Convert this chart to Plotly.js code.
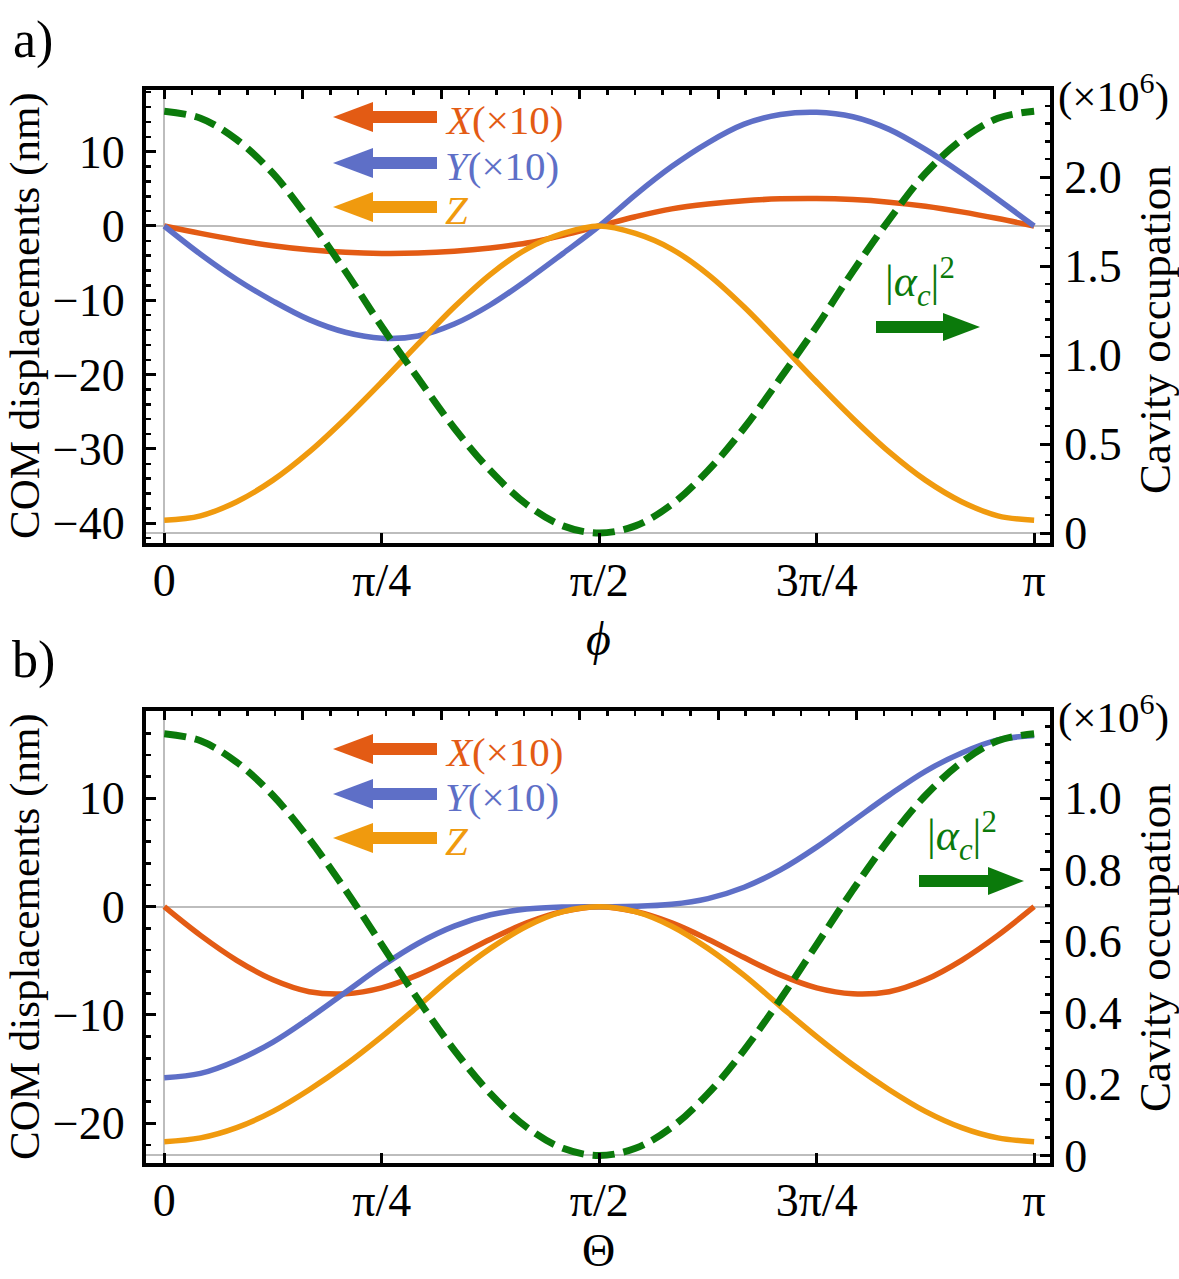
<!DOCTYPE html>
<html><head><meta charset="utf-8">
<script src="https://cdn.plot.ly/plotly-3.0.1.min.js"></script>
<style>html,body{margin:0;padding:0;background:#fff}#chart{width:1179px;height:1279px}</style>
</head><body><div id="chart"></div>
<script>
// angle grid (rad), step pi/24
const angle = [0, 0.1309, 0.2618, 0.3927, 0.5236, 0.6545, 0.7854, 0.9163, 1.0472, 1.1781, 1.3090, 1.4399, 1.5708, 1.7017, 1.8326, 1.9635, 2.0944, 2.2253, 2.3562, 2.4871, 2.6180, 2.7489, 2.8798, 3.0107, 3.1416];

// panel a (vs phi)
const xA = [0, -1.0, -1.9, -2.65, -3.2, -3.55, -3.7, -3.65, -3.4, -2.95, -2.3, -1.25, 0, 1.25, 2.3, 2.95, 3.4, 3.65, 3.7, 3.55, 3.2, 2.65, 1.9, 1.0, 0];
const yA = [0, -3.8, -7.2, -10.1, -12.6, -14.3, -15.1, -14.8, -13.2, -10.6, -7.3, -3.7, 0, 4.2, 8.0, 11.2, 13.7, 15.0, 15.3, 14.7, 13.0, 10.3, 7.1, 3.6, 0];
const zA = [-39.6, -39.0, -37.1, -34.2, -30.4, -25.9, -21.0, -15.9, -10.9, -6.5, -3.1, -1.0, 0, -1.0, -3.1, -6.5, -10.9, -15.9, -21.0, -25.9, -30.4, -34.2, -37.1, -39.0, -39.6];
const cavA = [2.37, 2.33, 2.21, 2.02, 1.76, 1.47, 1.16, 0.87, 0.59, 0.35, 0.16, 0.04, 0, 0.04, 0.16, 0.35, 0.59, 0.87, 1.16, 1.47, 1.76, 2.02, 2.21, 2.33, 2.37];

// panel b (vs Theta)
const xB = [0, -2.65, -4.95, -6.75, -7.85, -8.05, -7.5, -6.3, -4.7, -3.0, -1.5, -0.45, 0, -0.45, -1.5, -3.0, -4.7, -6.3, -7.5, -8.05, -7.85, -6.75, -4.95, -2.65, 0];
const yB = [-15.8, -15.4, -14.2, -12.5, -10.3, -7.9, -5.5, -3.4, -1.8, -0.75, -0.22, -0.03, 0, 0.03, 0.22, 0.75, 1.8, 3.4, 5.5, 7.9, 10.3, 12.5, 14.2, 15.4, 15.8];
const zB = [-21.7, -21.35, -20.4, -18.9, -16.9, -14.6, -12.0, -9.2, -6.35, -3.85, -1.8, -0.45, 0, -0.45, -1.8, -3.85, -6.35, -9.2, -12.0, -14.6, -16.9, -18.9, -20.4, -21.35, -21.7];
const cavB = [1.18, 1.16, 1.10, 1.007, 0.885, 0.743, 0.59, 0.437, 0.295, 0.173, 0.079, 0.020, 0, 0.020, 0.079, 0.173, 0.295, 0.437, 0.59, 0.743, 0.885, 1.007, 1.10, 1.16, 1.18];

// tick labels
const xTickVals = [0, 0.7854, 1.5708, 2.3562, 3.1416];
const xTickText = ['0', 'π/4', 'π/2', '3π/4', 'π'];
const rightTickValsA = [0, 0.5, 1.0, 1.5, 2.0];
const rightTickTextA = ['0', '0.5', '1.0', '1.5', '2.0'];
const rightTickValsB = [0, 0.2, 0.4, 0.6, 0.8, 1.0];
const rightTickTextB = ['0', '0.2', '0.4', '0.6', '0.8', '1.0'];

const W = 1179, H = 1279;
const px = x => x / W, py = y => 1 - y / H;
const FONT = 'Liberation Serif';
const C = {X: '#E35B14', Y: '#5E6FC7', Z: '#F09A0E', G: '#0B7A0B'};

function tr(x, y, xa, ya, color, dash, width) {
  return {type: 'scatter', mode: 'lines', x: x, y: y, xaxis: xa, yaxis: ya,
    line: {color: color, width: width, dash: dash || 'solid', shape: 'spline', smoothing: 1},
    hoverinfo: 'skip', showlegend: false};
}
const data = [
  tr(angle, xA, 'x', 'y', C.X, null, 5.5),
  tr(angle, yA, 'x', 'y', C.Y, null, 5.5),
  tr(angle, zA, 'x', 'y', C.Z, null, 5.5),
  tr(angle, cavA, 'x', 'y2', C.G, '22px,9px', 7),
  tr(angle, xB, 'x2', 'y3', C.X, null, 5.5),
  tr(angle, yB, 'x2', 'y3', C.Y, null, 5.5),
  tr(angle, zB, 'x2', 'y3', C.Z, null, 5.5),
  tr(angle, cavB, 'x2', 'y4', C.G, '22px,9px', 7),
  {type: 'scatter', mode: 'lines', x: [null], y: [null], xaxis: 'x3', yaxis: 'y', showlegend: false, hoverinfo: 'skip'},
  {type: 'scatter', mode: 'lines', x: [null], y: [null], xaxis: 'x4', yaxis: 'y3', showlegend: false, hoverinfo: 'skip'}
];

const tickFont = {family: FONT, size: 46, color: '#000'};
const base = {showline: true, linewidth: 4, linecolor: '#000', ticks: 'inside', tickcolor: '#000',
  tickwidth: 3, ticklen: 10, showgrid: false, zeroline: false, tickfont: tickFont, fixedrange: true};
const minorT = (dt, t0) => ({ticks: 'inside', tickmode: 'linear', tick0: t0 || 0, dtick: dt, ticklen: 5, tickwidth: 2.5, tickcolor: '#000', showgrid: false});
const XR = [-0.066, 3.199];
const xdom = [px(146), px(1050)];

const layout = {
  width: W, height: H, margin: {l: 0, r: 0, t: 0, b: 0},
  paper_bgcolor: '#fff', plot_bgcolor: 'rgba(0,0,0,0)', showlegend: false,
  font: {family: FONT, color: '#000'},
  xaxis: Object.assign({}, base, {domain: xdom, anchor: 'y', range: XR, tickmode: 'array', tickvals: xTickVals, ticktext: xTickText,
    zeroline: true, zerolinecolor: '#bdbdbd', zerolinewidth: 2, ticklabelstandoff: -6}),
  xaxis3: Object.assign({}, base, {overlaying: 'x', side: 'top', anchor: 'y', range: XR, tick0: 0, dtick: 0.5, ticklen: 9,
    minor: minorT(0.1), showticklabels: false}),
  yaxis: Object.assign({}, base, {domain: [py(543), py(90)], anchor: 'x', range: [-42.66, 18.3], tick0: 0, dtick: 10,
    minor: minorT(2), zeroline: true, zerolinecolor: '#bdbdbd', zerolinewidth: 2, ticklabelstandoff: 8}),
  yaxis2: Object.assign({}, base, {overlaying: 'y', side: 'right', anchor: 'x', range: [-0.0562, 2.489], tickmode: 'array',
    tickvals: rightTickValsA, ticktext: rightTickTextA, minor: minorT(0.1), zeroline: true, zerolinecolor: '#bdbdbd', zerolinewidth: 2, ticklabelstandoff: 1}),
  xaxis2: Object.assign({}, base, {domain: xdom, anchor: 'y3', range: XR, tickmode: 'array', tickvals: xTickVals, ticktext: xTickText,
    zeroline: true, zerolinecolor: '#bdbdbd', zerolinewidth: 2, ticklabelstandoff: -6}),
  xaxis4: Object.assign({}, base, {overlaying: 'x2', side: 'top', anchor: 'y3', range: XR, tick0: 0, dtick: 0.5, ticklen: 9,
    minor: minorT(0.1), showticklabels: false}),
  yaxis3: Object.assign({}, base, {domain: [py(1163), py(711)], anchor: 'x2', range: [-23.67, 18.07], tick0: 0, dtick: 10,
    minor: minorT(2), zeroline: true, zerolinecolor: '#bdbdbd', zerolinewidth: 2, ticklabelstandoff: 8}),
  yaxis4: Object.assign({}, base, {overlaying: 'y3', side: 'right', anchor: 'x2', range: [-0.021, 1.2434], tickmode: 'array',
    tickvals: rightTickValsB, ticktext: rightTickTextB, minor: minorT(0.05), zeroline: true, zerolinecolor: '#bdbdbd', zerolinewidth: 2, ticklabelstandoff: 1}),
  annotations: [],
  shapes: []
};

function txt(text, x, y, size, opts) {
  layout.annotations.push(Object.assign({text: text, x: px(x), y: py(y), xref: 'paper', yref: 'paper', showarrow: false,
    xanchor: 'center', yanchor: 'middle', font: {family: FONT, size: size, color: (opts && opts.color) || '#000'}}, opts || {}));
}
function arrow(tipX, baseX, tailX, y, color, half, thick) {
  layout.shapes.push({type: 'line', xref: 'paper', yref: 'paper', x0: px(baseX), x1: px(tailX), y0: py(y), y1: py(y),
    line: {color: color, width: thick}});
  layout.shapes.push({type: 'path', xref: 'paper', yref: 'paper',
    path: 'M ' + px(tipX) + ' ' + py(y) + ' L ' + px(baseX) + ' ' + py(y - half) + ' L ' + px(baseX) + ' ' + py(y + half) + ' Z',
    fillcolor: color, line: {width: 0}});
}

// panel labels
txt('a)', 33, 40, 52);
txt('b)', 33, 660, 52);

// axis titles
txt('COM displacements (nm)', 25, 316, 43, {textangle: -90});
txt('COM displacements (nm)', 25, 937, 43, {textangle: -90});
txt('Cavity occupation', 1155, 330, 45, {textangle: -90});
txt('Cavity occupation', 1155, 948, 45, {textangle: -90});
txt('<i>ϕ</i>', 598, 638, 48);
txt('Θ', 598, 1250, 46);
txt('(×10<sup>6</sup>)', 1056, 94, 43, {xanchor: 'left'});
txt('(×10<sup>6</sup>)', 1056, 714, 43, {xanchor: 'left'});

// legend-like arrows
const legA = [[C.X, '<i>X</i>(×10)', 117], [C.Y, '<i>Y</i>(×10)', 163], [C.Z, '<i>Z</i>', 207]];
legA.forEach(l => { arrow(333, 373, 437, l[2], l[0], 15, 12); txt(l[1], 443, l[2] + 3, 41, {xanchor: 'left', color: l[0]}); });
const legB = [[C.X, '<i>X</i>(×10)', 749], [C.Y, '<i>Y</i>(×10)', 794], [C.Z, '<i>Z</i>', 838]];
legB.forEach(l => { arrow(333, 373, 437, l[2], l[0], 15, 12); txt(l[1], 443, l[2] + 3, 41, {xanchor: 'left', color: l[0]}); });

// cavity arrows
arrow(980, 943, 876, 327, C.G, 14, 12);
txt('|<i>α</i><sub><i>c</i></sub>|<sup>2</sup>', 920, 282, 44, {color: C.G});
arrow(1024, 988, 919, 881, C.G, 14, 12);
txt('|<i>α</i><sub><i>c</i></sub>|<sup>2</sup>', 962, 836, 44, {color: C.G});

Plotly.newPlot('chart', data, layout, {staticPlot: true, displayModeBar: false});
</script>
</body></html>
